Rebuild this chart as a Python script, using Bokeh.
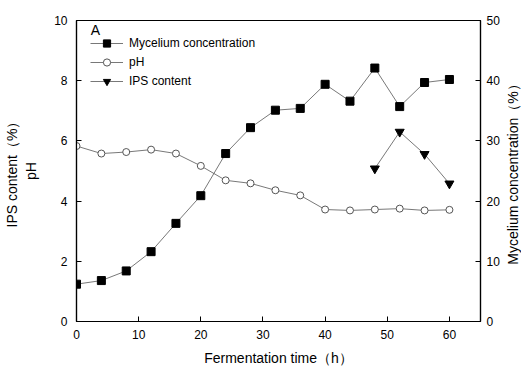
import math
from bokeh.plotting import figure
from bokeh.layouts import row
from bokeh.models import Range1d, LinearAxis, Legend, LegendItem, Label, FixedTicker
from bokeh.embed import file_html
from bokeh.resources import INLINE

# Data
time_h = [0, 4, 8, 12, 16, 20, 24, 28, 32, 36, 40, 44, 48, 52, 56, 60]
mycelium = [6.2, 6.8, 8.4, 11.6, 16.3, 20.9, 27.9, 32.2, 35.1, 35.4, 39.4, 36.6, 42.1, 35.7, 39.7, 40.2]
ph = [5.83, 5.58, 5.63, 5.71, 5.58, 5.17, 4.69, 4.59, 4.36, 4.19, 3.72, 3.69, 3.72, 3.75, 3.69, 3.71]
ips_time = [48, 52, 56, 60]
ips = [5.08, 6.3, 5.56, 4.58]

x_ticks = [0, 10, 20, 30, 40, 50, 60]
left_ticks = [0, 2, 4, 6, 8, 10]
right_ticks = [0, 10, 20, 30, 40, 50]

FONT = "Liberation Sans"

p = figure(frame_width=404, frame_height=301, output_backend="svg", toolbar_location=None,
           x_range=Range1d(0, 65), y_range=Range1d(0, 10),
           min_border_left=74, min_border_right=22, min_border_top=20, min_border_bottom=46)
p.extra_y_ranges = {"right": Range1d(0, 50)}
p.xgrid.visible = False
p.ygrid.visible = False
p.outline_line_color = "black"
p.outline_line_width = 1.2
p.background_fill_color = "white"
p.border_fill_color = "white"

def style_axis(ax, ticks):
    ax.ticker = FixedTicker(ticks=ticks)
    ax.major_tick_in = 5
    ax.major_tick_out = 0
    ax.minor_tick_line_color = None
    ax.axis_line_color = "black"
    ax.axis_line_width = 1.2
    ax.major_tick_line_color = "black"
    ax.major_label_text_font = FONT
    ax.major_label_text_font_size = "12px"
    ax.major_label_text_color = "black"
    ax.axis_label_text_font = FONT
    ax.axis_label_text_font_size = "14px"
    ax.axis_label_text_font_style = "normal"
    ax.axis_label_text_color = "black"

style_axis(p.xaxis[0], x_ticks)
p.xaxis[0].axis_label = "Fermentation time（h）"
p.xaxis[0].axis_label_standoff = 8
p.xaxis[0].major_label_standoff = 8

style_axis(p.yaxis[0], left_ticks)
p.yaxis[0].axis_label = "IPS content（%）\npH"
p.yaxis[0].major_label_standoff = 9
p.yaxis[0].axis_label_standoff = 12

right_axis = LinearAxis(y_range_name="right")
style_axis(right_axis, right_ticks)
right_axis.major_label_standoff = 6
p.add_layout(right_axis, "right")

line_color = "#555555"

# Mycelium (right axis)
l1 = p.line(time_h, mycelium, y_range_name="right", line_color=line_color, line_width=0.8)
s1 = p.scatter(time_h, mycelium, y_range_name="right", marker="square", size=8,
               fill_color="black", line_color="black")

# pH
l2 = p.line(time_h, ph, line_color=line_color, line_width=0.8)
s2 = p.scatter(time_h, ph, marker="circle", size=7, fill_color="white",
               line_color="#555555", line_width=1)

# IPS
l3 = p.line(ips_time, ips, line_color=line_color, line_width=0.8)
s3 = p.scatter(ips_time, ips, marker="inverted_triangle", size=9,
               fill_color="black", line_color="black")

legend = Legend(items=[
    LegendItem(label="Mycelium concentration", renderers=[l1, s1]),
    LegendItem(label="pH", renderers=[l2, s2]),
    LegendItem(label="IPS content", renderers=[l3, s3]),
], location="top_left")
legend.background_fill_alpha = 0
legend.border_line_color = None
legend.margin = 14
legend.padding = 6
legend.glyph_width = 33
legend.glyph_height = 18
legend.label_height = 18
legend.spacing = 1
legend.label_standoff = 6
legend.label_text_font = FONT
legend.label_text_font_size = "12px"
legend.label_text_color = "black"
p.add_layout(legend, "center")

p.add_layout(Label(x=2.3, y=9.7, text="A", text_font=FONT, text_font_size="14px",
                   text_baseline="middle", text_align="left", text_color="black"))

# narrow companion panel holding the right-axis title (reads bottom to top)
p2 = figure(frame_width=19, frame_height=301, output_backend="svg", toolbar_location=None,
            x_range=Range1d(0, 19), y_range=Range1d(0, 301),
            x_axis_type=None, y_axis_type=None,
            min_border_left=0, min_border_right=0, min_border_top=20, min_border_bottom=46)
p2.xgrid.visible = False
p2.ygrid.visible = False
p2.outline_line_color = None
p2.background_fill_color = "white"
p2.border_fill_color = "white"
p2.add_layout(Label(x=10, y=150.5, text="Mycelium concentration（%）", angle=math.pi / 2,
                    text_font=FONT, text_font_size="14px", text_align="center",
                    text_baseline="middle", text_color="black"))

layout = row(p, p2, spacing=0)
open("out.html", "w").write(file_html(layout, INLINE))
